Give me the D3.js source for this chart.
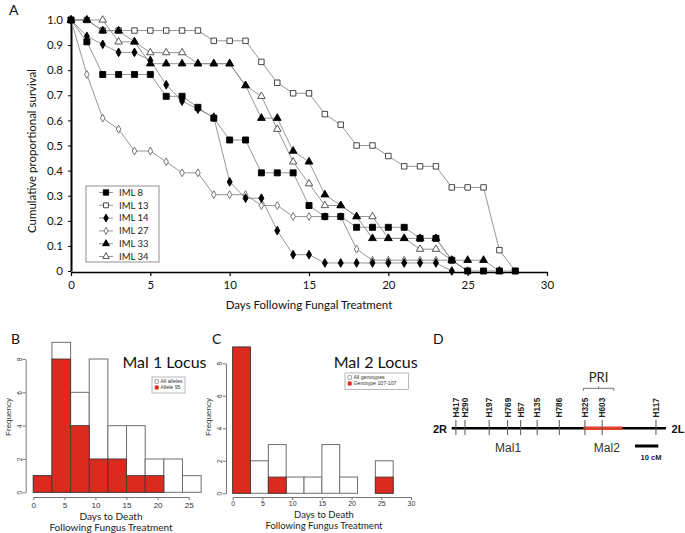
<!DOCTYPE html>
<html><head><meta charset="utf-8">
<script src="https://cdnjs.cloudflare.com/ajax/libs/d3/7.8.5/d3.min.js"></script>
<style>body{margin:0;background:#fff}svg{display:block}</style>
</head><body>
<script>
// ---------- Panel A data ----------
const days = [0,1,2,3,4,5,6,7,8,9,10,11,12,13,14,15,16,17,18,19,20,21,22,23,24,25,26,27,28];
const seriesNames = ["IML 8","IML 13","IML 14","IML 27","IML 33","IML 34"];
const iml8  = [1,.913,.783,.783,.783,.783,.696,.696,.652,.609,.522,.522,.391,.391,.391,.261,.217,.217,.174,.174,.174,.174,.130,.130,.043,0,0,0,0];
const iml13 = [1,1,.958,.958,.958,.958,.958,.958,.958,.917,.917,.917,.833,.750,.708,.708,.625,.583,.5,.5,.458,.417,.417,.417,.333,.333,.333,.083,0];
const iml14 = [1,.935,.903,.871,.871,.839,.742,.677,.645,.613,.355,.290,.290,.161,.065,.065,.032,.032,.032,.032,.032,.032,.032,.032,0];
const iml27 = [1,.783,.609,.565,.478,.478,.435,.391,.391,.304,.304,.304,.261,.261,.217,.217,.217,.217,.087,.043,.043,.043,.043,.043,.043,0];
const iml33 = [1,1,.957,.957,.913,.826,.826,.826,.826,.826,.826,.739,.609,.609,.478,.435,.304,.261,.217,.130,.130,.130,.130,.130,.043,.043,.043,0];
const iml34 = [1,1,1,.913,.913,.870,.870,.870,.826,.826,.826,.739,.696,.565,.435,.348,.261,.261,.217,.217,.130,.130,.087,.087,.043,0];
const xTicksA = [0,5,10,15,20,25,30];
const yTicksA = [0,0.1,0.2,0.3,0.4,0.5,0.6,0.7,0.8,0.9,1.0];

// ---------- Panel B data ----------
const binEdgesB = [0,3,6,9,12,15,18,21,24,27];
const allAlleles = [1,9,6,8,4,4,2,2,1];
const allele95   = [1,8,4,2,2,1,1,0,0];
const xTicksB = [0,5,10,15,20,25];
// ---------- Panel C data ----------
const binEdgesC = [0,3,6,9,12,15,18,21,24,27,30];
const allGenotypes = [9,2,3,1,1,3,1,0,2,0];
const genotype107  = [9,0,1,0,0,0,0,0,1,0];
const xTicksC = [0,5,10,15,20,25,30];
const yTicksHist = [0,2,4,6,8];
// ---------- Panel D data ----------
const markerNames = ["H417","H290","H197","H769","H57","H135","H786","H325","H603","H117"];
const markerCM    = [1.8,5.7,16.1,24.0,29.6,36.7,46.2,57.2,64.6,87.7];
const chromLength = 92;
const mal2Region = [56.5,73.3];
const priRegion = [56.5,69.6];
const qtlNames = ["Mal1","Mal2"];
const qtlCM = [24.2,66.6];
const scaleBarCM = [78.7,88.7];

const W=685,H=533;
const svg=d3.select("body").append("svg").attr("width",W).attr("height",H);
const CAL="Lato, 'Open Sans', sans-serif";
const ARI="'Liberation Sans', Arial, sans-serif";

// ================= Panel A =================
const gA=svg.append("g");
const xA=d3.scaleLinear().domain([0,30]).range([71,547]);
const yA=d3.scaleLinear().domain([0,1]).range([271,20]);

const xAx=gA.append("g").attr("transform","translate(0,272)")
  .call(d3.axisBottom(xA).tickValues(xTicksA).tickSize(4).tickSizeOuter(0).tickPadding(5));
xAx.select(".domain").attr("stroke","#000").attr("stroke-width",1.6);
xAx.selectAll(".tick line").attr("stroke","#000").attr("stroke-width",1.2);
xAx.selectAll("text").attr("font-family",CAL).attr("font-size",11.5).attr("fill","#111");

const yAx=gA.append("g").attr("transform","translate(71,0)")
  .call(d3.axisLeft(yA).tickValues(yTicksA).tickSize(3).tickSizeOuter(0).tickPadding(5)
    .tickFormat(d=>d===0?"0":d3.format(".1f")(d)));
yAx.select(".domain").attr("stroke","#000").attr("stroke-width",2);
yAx.selectAll(".tick line").attr("stroke","#000");
yAx.selectAll("text").attr("font-family",CAL).attr("font-size",11.5).attr("fill","#111");

gA.append("text").attr("x",309).attr("y",309).attr("text-anchor","middle")
  .attr("font-family",CAL).attr("font-size",11.5).attr("fill","#111").text("Days Following Fungal Treatment");
gA.append("text").attr("transform","translate(36,151) rotate(-90)").attr("text-anchor","middle")
  .attr("font-family",CAL).attr("font-size",11.5).attr("fill","#111").text("Cumulative proportional survival");
svg.append("text").attr("x",9).attr("y",15).attr("font-family",CAL).attr("font-size",14).attr("fill","#111").text("A");

const styles = {
  "IML 8":  {sym:d3.symbolSquare, size:36, fill:"#000", stroke:"#000"},
  "IML 13": {sym:d3.symbolSquare, size:30, fill:"#fff", stroke:"#333"},
  "IML 14": {sym:d3.symbolDiamond, size:22, fill:"#000", stroke:"#000"},
  "IML 27": {sym:d3.symbolDiamond, size:18, fill:"#fff", stroke:"#666"},
  "IML 33": {sym:d3.symbolTriangle, size:26, fill:"#000", stroke:"#000"},
  "IML 34": {sym:d3.symbolTriangle, size:24, fill:"#fff", stroke:"#444"}
};
const seriesVals = {"IML 8":iml8,"IML 13":iml13,"IML 14":iml14,"IML 27":iml27,"IML 33":iml33,"IML 34":iml34};
const drawOrder = ["IML 27","IML 14","IML 13","IML 34","IML 33","IML 8"];
const line=d3.line().x(d=>xA(d[0])).y(d=>yA(d[1]));
drawOrder.forEach(name=>{
  const pts=seriesVals[name].map((v,i)=>[days[i],v]);
  gA.append("path").datum(pts).attr("d",line).attr("fill","none").attr("stroke","#8a8a8a").attr("stroke-width",0.9);
});
drawOrder.forEach(name=>{
  const st=styles[name];
  const pts=seriesVals[name].map((v,i)=>[days[i],v]);
  gA.append("g").selectAll("path").data(pts).join("path")
    .attr("transform",d=>`translate(${xA(d[0])},${yA(d[1])})`)
    .attr("d",d3.symbol().type(st.sym).size(st.size))
    .attr("fill",st.fill).attr("stroke",st.stroke).attr("stroke-width",0.9);
});
// legend
const lg=gA.append("g");
lg.append("rect").attr("x",86).attr("y",186).attr("width",73).attr("height",76)
  .attr("fill","#fff").attr("stroke","#777").attr("stroke-width",0.8);
seriesNames.forEach((name,i)=>{
  const yy=192.5+i*12.8, st=styles[name];
  lg.append("line").attr("x1",99).attr("x2",113).attr("y1",yy).attr("y2",yy).attr("stroke","#8a8a8a").attr("stroke-width",0.9);
  lg.append("path").attr("transform",`translate(106,${yy})`).attr("d",d3.symbol().type(st.sym).size(st.size*0.8))
    .attr("fill",st.fill).attr("stroke",st.stroke).attr("stroke-width",0.9);
  lg.append("text").attr("x",119).attr("y",yy+3.3).attr("font-family",CAL).attr("font-size",9.5).attr("fill","#222").text(name);
});

// ================= Histogram helper =================
function hist(opts){
  const g=svg.append("g");
  const {x,y,edges,totals,reds,axisY,axisX,xTicks,title,titleX,legendBox,legendRows,fs} = opts;
  totals.forEach((c,i)=>{
    g.append("rect").attr("x",x(edges[i])).attr("width",x(edges[i+1])-x(edges[i]))
      .attr("y",y(c)).attr("height",y(0)-y(c)).attr("fill","#fff").attr("stroke","#6e6e6e").attr("stroke-width",1);
  });
  reds.forEach((c,i)=>{
    if(c<=0) return;
    g.append("rect").attr("x",x(edges[i])).attr("width",x(edges[i+1])-x(edges[i]))
      .attr("y",y(c)).attr("height",y(0)-y(c)).attr("fill","#dc2a1e").attr("stroke","#4a3a36").attr("stroke-width",0.9);
  });
  const xa=g.append("g").attr("transform",`translate(0,${axisY})`)
    .call(d3.axisBottom(x).tickValues(xTicks).tickSize(3).tickSizeOuter(0).tickPadding(opts.tp));
  xa.select(".domain").attr("stroke","#777");
  xa.selectAll(".tick line").attr("stroke","#777");
  xa.selectAll("text").attr("font-family",ARI).attr("font-size",fs).attr("fill","#333");
  const ya=g.append("g").attr("transform",`translate(${axisX},0)`)
    .call(d3.axisLeft(y).tickValues(yTicksHist).tickSize(3).tickSizeOuter(0));
  ya.select(".domain").attr("stroke","#777");
  ya.selectAll(".tick line").attr("stroke","#777");
  ya.selectAll("text").attr("x",0).attr("dy",0).attr("text-anchor","middle")
    .attr("transform","translate(-3.6,0) rotate(-90)")
    .attr("font-family",ARI).attr("font-size",6.5).attr("fill","#333");
  g.append("text").attr("transform",`translate(${axisX-15},417) rotate(-90)`).attr("text-anchor","middle")
    .attr("font-family",ARI).attr("font-size",8).attr("fill","#333").text("Frequency");
  g.append("text").attr("x",titleX).attr("y",opts.xtY1).attr("text-anchor","middle").attr("font-family",CAL)
    .attr("font-size",opts.xfs).attr("fill","#222").text("Days to Death");
  g.append("text").attr("x",titleX).attr("y",opts.xtY2).attr("text-anchor","middle").attr("font-family",CAL)
    .attr("font-size",opts.xfs).attr("fill","#222").text("Following Fungus Treatment");
  g.append("text").attr("x",title.x).attr("y",368).attr("text-anchor","middle").attr("font-family",CAL)
    .attr("font-size",16).attr("fill","#111").text(title.text);
  g.append("rect").attr("x",legendBox[0]).attr("y",legendBox[1]).attr("width",legendBox[2]).attr("height",legendBox[3])
    .attr("fill","#fff").attr("stroke","#999").attr("stroke-width",0.7);
  legendRows.forEach((r,i)=>{
    const yy=legendBox[1]+4.5+i*6;
    g.append("rect").attr("x",legendBox[0]+3).attr("y",yy-1.7).attr("width",3.4).attr("height",3.4)
      .attr("fill",i===0?"#fff":"#dc2a1e").attr("stroke",i===0?"#555":"#dc2a1e").attr("stroke-width",0.5);
    g.append("text").attr("x",legendBox[0]+8.5).attr("y",yy+1.8).attr("font-family",ARI).attr("font-size",5.2)
      .attr("fill","#333").text(r);
  });
}
hist({x:d3.scaleLinear().domain([0,25]).range([33.3,188.7]), y:d3.scaleLinear().domain([0,8]).range([492.3,359]),
  edges:binEdgesB, totals:allAlleles, reds:allele95, axisY:497, axisX:25.7, xTicks:xTicksB, tp:2,
  title:{text:"Mal 1 Locus",x:164.5}, titleX:111, xtY1:520, xtY2:531, xfs:10,
  legendBox:[152,377,33,16], legendRows:["All alleles","Allele 95"], fs:8});
hist({x:d3.scaleLinear().domain([0,30]).range([232.7,411]), y:d3.scaleLinear().domain([0,8]).range([493.3,363.3]),
  edges:binEdgesC, totals:allGenotypes, reds:genotype107, axisY:497, axisX:226, xTicks:xTicksC, tp:1,
  title:{text:"Mal 2 Locus",x:375.7}, titleX:324, xtY1:518, xtY2:528.5, xfs:9.5,
  legendBox:[345,373,63.5,16.5], legendRows:["All genotypes","Genotype 107-107"], fs:7});
svg.append("text").attr("x",11).attr("y",344).attr("font-family",CAL).attr("font-size",14).attr("fill","#111").text("B");
svg.append("text").attr("x",212).attr("y",344).attr("font-family",CAL).attr("font-size",14).attr("fill","#111").text("C");

// ================= Panel D =================
const gD=svg.append("g");
const xD=d3.scaleLinear().domain([0,chromLength]).range([451.7,666]);
const yLine=428.3;
svg.append("text").attr("x",433).attr("y",344).attr("font-family",CAL).attr("font-size",14).attr("fill","#111").text("D");
gD.append("line").attr("x1",xD(0)).attr("x2",xD(chromLength)).attr("y1",yLine).attr("y2",yLine)
  .attr("stroke","#000").attr("stroke-width",2.6);
gD.append("line").attr("x1",xD(mal2Region[0])).attr("x2",xD(mal2Region[1])).attr("y1",yLine).attr("y2",yLine)
  .attr("stroke","#e0402e").attr("stroke-width",3.4);
markerCM.forEach((c,i)=>{
  gD.append("line").attr("x1",xD(c)).attr("x2",xD(c)).attr("y1",420).attr("y2",435).attr("stroke","#555").attr("stroke-width",1);
  gD.append("text").attr("transform",`translate(${xD(c)+3},417.5) rotate(-90)`).attr("text-anchor","start")
    .attr("font-family",ARI).attr("font-weight","bold").attr("font-size",8.3).attr("fill","#222").text(markerNames[i]);
});
qtlNames.forEach((n,i)=>{
  gD.append("text").attr("x",xD(qtlCM[i])).attr("y",452).attr("text-anchor","middle")
    .attr("font-family",ARI).attr("font-size",12).attr("fill","#333").text(n);
});
gD.append("text").attr("x",440).attr("y",432.5).attr("text-anchor","middle").attr("font-family",ARI)
  .attr("font-weight","bold").attr("font-size",11).attr("fill","#111").text("2R");
gD.append("text").attr("x",678).attr("y",432.5).attr("text-anchor","middle").attr("font-family",ARI)
  .attr("font-weight","bold").attr("font-size",11).attr("fill","#111").text("2L");
// PRI bracket
const bx0=xD(priRegion[0]), bx1=xD(priRegion[1]);
gD.append("path").attr("d",`M${bx0},391 V388.3 H${bx1} V391 M${(bx0+bx1)/2},388.3 V386.3`)
  .attr("fill","none").attr("stroke","#666").attr("stroke-width",0.9);
gD.append("text").attr("x",(bx0+bx1)/2).attr("y",382).attr("text-anchor","middle").attr("font-family",CAL)
  .attr("font-size",13).attr("fill","#222").text("PRI");
// scale bar
gD.append("line").attr("x1",xD(scaleBarCM[0])).attr("x2",xD(scaleBarCM[1])).attr("y1",446).attr("y2",446)
  .attr("stroke","#000").attr("stroke-width",3);
gD.append("text").attr("x",651).attr("y",460).attr("text-anchor","middle").attr("font-family",ARI)
  .attr("font-weight","bold").attr("font-size",7.5).attr("fill","#222").text("10 cM");
</script>
</body></html>
